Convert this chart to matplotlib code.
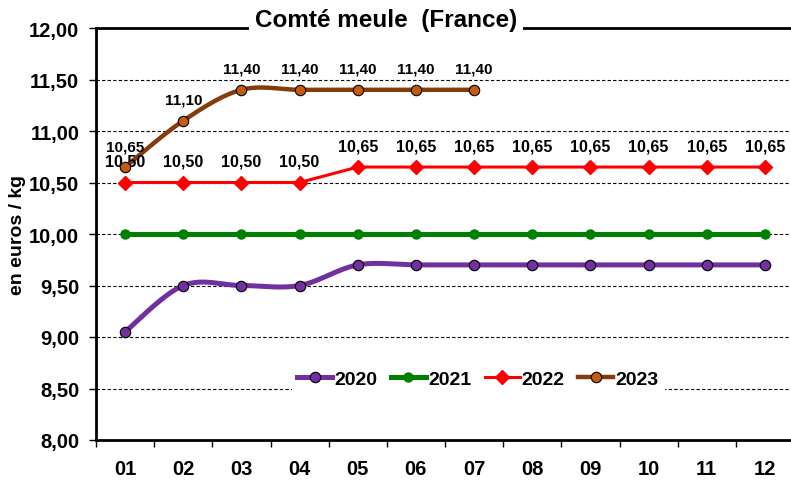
import numpy as np
import matplotlib.pyplot as plt

plt.rcParams['font.family'] = ['Liberation Sans', 'DejaVu Sans']
plt.rcParams['font.weight'] = 'bold'

months = ['01', '02', '03', '04', '05', '06', '07', '08', '09', '10', '11', '12']
p2020 = [9.05, 9.50, 9.50, 9.50, 9.70, 9.70, 9.70, 9.70, 9.70, 9.70, 9.70, 9.70]
p2021 = [10.00] * 12
p2022 = [10.50, 10.50, 10.50, 10.50, 10.65, 10.65, 10.65, 10.65, 10.65, 10.65, 10.65, 10.65]
p2023 = [10.65, 11.10, 11.40, 11.40, 11.40, 11.40, 11.40]
yticks = [8.0, 8.5, 9.0, 9.5, 10.0, 10.5, 11.0, 11.5, 12.0]


def smooth(x, y, n=30):
    # Catmull-Rom curve through the points, like Excel's smoothed lines
    p = np.column_stack([x, y]).astype(float)
    p = np.vstack([p[0], p, p[-1]])
    out = []
    t = np.linspace(0, 1, n)[:, None]
    for i in range(1, len(p) - 2):
        p0, p1, p2, p3 = p[i - 1], p[i], p[i + 1], p[i + 2]
        seg = 0.5 * ((2 * p1) + (-p0 + p2) * t + (2 * p0 - 5 * p1 + 4 * p2 - p3) * t ** 2
                     + (-p0 + 3 * p1 - 3 * p2 + p3) * t ** 3)
        out.append(seg)
    out = np.vstack(out)
    return out[:, 0], out[:, 1]


def fmt(v):
    return f"{v:.2f}".replace('.', ',')


fig = plt.figure(figsize=(7.91, 4.85), dpi=100)
ax = fig.add_axes([96 / 791, 1 - 441 / 485, 698 / 791, 412 / 485])

x = np.arange(12)

for yv in yticks[1:-1]:
    ax.axhline(yv, color='black', lw=0.8, ls=(0, (3, 2)), zorder=1)

# 2020 smoothed
sx, sy = smooth(x, p2020)
ax.plot(sx, sy, color='#7030A0', lw=3.6, zorder=3, solid_capstyle='round')
ax.plot(x, p2020, ls='none', marker='o', ms=7.5, mfc='#7030A0', mec='black', mew=0.8, zorder=4)
# 2021
ax.plot(x, p2021, color='#008000', lw=3.6, marker='o', ms=6.5, mec='#008000', zorder=3)
# 2022
ax.plot(x, p2022, color='#FF0000', lw=2.2, marker='D', ms=7, mec='#FF0000', zorder=3)
# 2023 smoothed
x23 = np.arange(len(p2023))
sx, sy = smooth(x23, p2023)
ax.plot(sx, sy, color='#843C0C', lw=3.2, zorder=3, solid_capstyle='round')
ax.plot(x23, p2023, ls='none', marker='o', ms=7.5, mfc='#C55A11', mec='black', mew=0.8, zorder=4)

for xi, v in zip(x, p2022):
    ax.annotate(fmt(v), (xi, v), xytext=(0, 10), textcoords='offset points',
                ha='center', va='bottom', fontsize=11.5, fontweight='bold')
for xi, v in zip(x23, p2023):
    ax.annotate(fmt(v), (xi, v), xytext=(0, 10), textcoords='offset points',
                ha='center', va='bottom', fontsize=11, fontweight='bold')

# legend proxies
h20, = ax.plot([], [], color='#7030A0', lw=3.6, marker='o', ms=7.5, mfc='#7030A0', mec='black', mew=0.8)
h21, = ax.plot([], [], color='#008000', lw=3.6, marker='o', ms=6.5)
h22, = ax.plot([], [], color='#FF0000', lw=2.2, marker='D', ms=7)
h23, = ax.plot([], [], color='#843C0C', lw=3.2, marker='o', ms=7.5, mfc='#C55A11', mec='black', mew=0.8)
leg = ax.legend([h20, h21, h22, h23], ['2020', '2021', '2022', '2023'], ncol=4,
                loc='center', bbox_to_anchor=(0.547, 0.148), frameon=True, fancybox=False,
                edgecolor='white', framealpha=1, fontsize=14, handlelength=1.8,
                handletextpad=0.1, columnspacing=0.7, borderpad=0.3)
leg.set_zorder(5)

ax.set_xlim(-0.5, 11.5)
ax.set_ylim(8, 12)
ax.set_yticks(yticks)
ax.set_yticklabels([fmt(v) for v in yticks], fontsize=14.5, fontweight='bold')
ax.set_xticks(x)
ax.set_xticklabels(months, fontsize=14.5, fontweight='bold')
ax.set_xticks(np.arange(-0.5, 12, 1), minor=True)
ax.tick_params(axis='x', which='major', length=0, pad=14)
ax.tick_params(axis='x', which='minor', length=5, width=1)
ax.tick_params(axis='y', length=5, width=1, pad=7)
ax.spines['right'].set_visible(False)
for s in ['left', 'bottom', 'top']:
    ax.spines[s].set_linewidth(2)
ax.set_ylabel('en euros / kg', fontsize=14, fontweight='bold', labelpad=2)

fig.text(386 / 791, 1 - 20 / 485, 'Comté meule  (France)', ha='center', va='center',
         fontsize=17.5, fontweight='bold',
         bbox=dict(facecolor='white', edgecolor='none', pad=4))

fig.savefig('out.png', dpi=100)
